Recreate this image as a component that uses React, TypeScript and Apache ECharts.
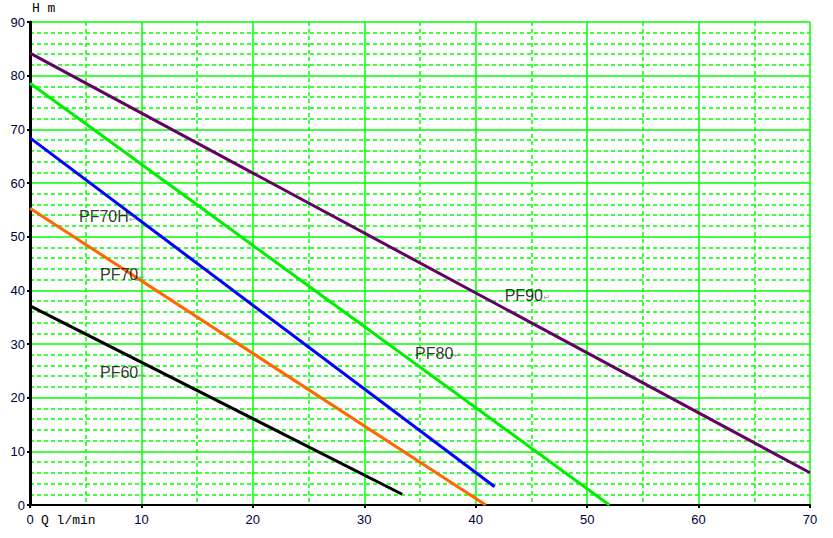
import React, { useEffect, useRef } from "react";
import * as echarts from "echarts";

const xTicks = [0, 10, 20, 30, 40, 50, 60, 70];
const yTicks = [0, 10, 20, 30, 40, 50, 60, 70, 80, 90];

const seriesNames = ["PF90", "PF80", "PF70H", "PF70", "PF60"];
const seriesColors = ["#660066", "#00ee00", "#0000ff", "#ff6600", "#000000"];
const pf90 = [[0, 84.2], [70, 6.0]];
const pf80 = [[0, 78.6], [52.0, 0]];
const pf70h = [[0, 68.4], [41.7, 3.4]];
const pf70 = [[0, 55.3], [40.9, 0]];
const pf60 = [[0, 37.1], [33.4, 2.0]];
const seriesData = [pf90, pf80, pf70h, pf70, pf60];

const labelPositions = [[42.6, 39.1], [34.56, 28.3], [4.4, 53.7], [6.28, 42.9], [6.28, 24.6]];

export default function App() {
  const ref = useRef<HTMLDivElement>(null);
  useEffect(() => {
    document.body.style.margin = "0";
    const chart = echarts.init(ref.current!, null, { renderer: "svg" });
    const green = "#00ff00";
    const lines = seriesNames.map((n, i) => ({
      name: n,
      type: "line",
      data: seriesData[i],
      symbol: "none",
      lineStyle: { color: seriesColors[i], width: 3 },
      z: 3,
    }));
    const labels = seriesNames.map((n, i) => ({
      name: n + "-label",
      type: "scatter",
      data: [labelPositions[i]],
      symbolSize: 0,
      silent: true,
      z: 4,
      label: {
        show: true,
        position: "right",
        distance: 0,
        color: "#000000",
        formatter: "{a|" + n + "}{b|↵}",
        rich: {
          a: { fontFamily: "Liberation Sans, Arial", fontSize: 16, color: "#000000" },
          b: { fontFamily: "DejaVu Sans", fontSize: 9, color: "#888888", padding: [4, 0, 0, 0] },
        },
      },
    }));
    chart.setOption({
      animation: false,
      backgroundColor: "#ffffff",
      grid: { left: 30, right: 23, top: 22, bottom: 33, containLabel: false },
      xAxis: {
        type: "value",
        min: xTicks[0],
        max: xTicks[xTicks.length - 1],
        interval: 10,
        axisLine: { show: true, onZero: false, lineStyle: { color: "#000000", width: 2 } },
        axisTick: { show: true, length: 3, lineStyle: { color: "#000000", width: 2 } },
        axisLabel: { color: "#000040", fontFamily: "Liberation Sans, Arial", fontSize: 13, margin: 8 },
        splitLine: { show: true, lineStyle: { color: green, width: 1.5 } },
        minorTick: { show: false, splitNumber: 2 },
        minorSplitLine: { show: true, lineStyle: { color: green, width: 1.5, type: [4, 3] } },
      },
      yAxis: {
        type: "value",
        min: yTicks[0],
        max: yTicks[yTicks.length - 1],
        interval: 10,
        axisLine: { show: true, onZero: false, lineStyle: { color: "#000000", width: 3 } },
        axisTick: { show: true, length: 3, lineStyle: { color: "#000000", width: 2 } },
        axisLabel: { color: "#000040", fontFamily: "Liberation Sans, Arial", fontSize: 13, margin: 5 },
        splitLine: { show: true, lineStyle: { color: green, width: 1.5 } },
        minorTick: { show: false, splitNumber: 5 },
        minorSplitLine: { show: true, lineStyle: { color: green, width: 1.5, type: [4, 3] } },
      },
      graphic: [
        {
          type: "text",
          left: 32,
          top: 2,
          style: { text: "H m", fontFamily: "Liberation Mono, monospace", fontSize: 13, fill: "#000000" },
        },
        {
          type: "text",
          left: 41,
          top: 514,
          style: { text: "Q l/min", fontFamily: "Liberation Mono, monospace", fontSize: 13, fill: "#000000" },
        },
      ],
      series: [...lines, ...labels],
    });
    return () => chart.dispose();
  }, []);
  return <div ref={ref} style={{ width: 833, height: 538 }} />;
}
